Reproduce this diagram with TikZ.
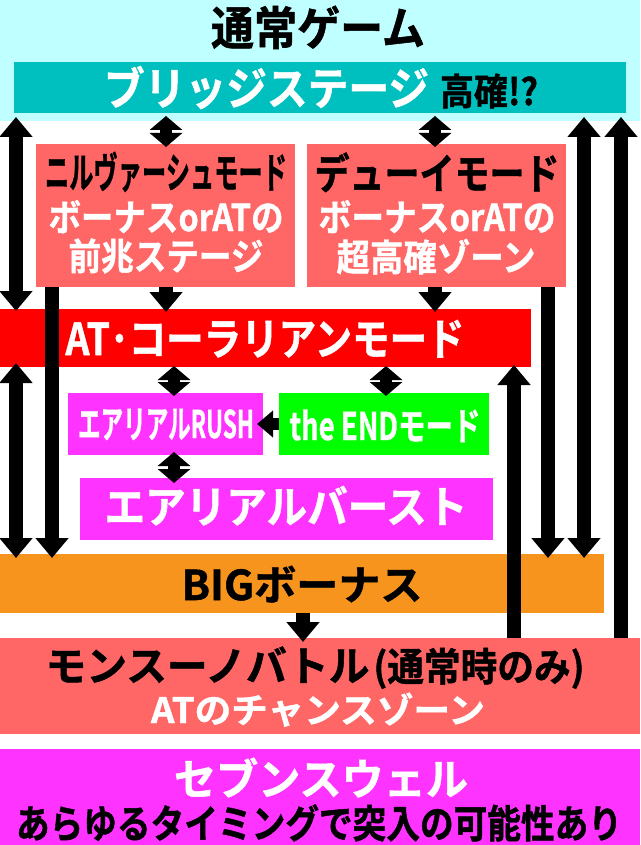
\documentclass[tikz,border=0pt]{standalone}
\usepackage{fontspec}
\setmainfont{Noto Sans CJK JP}[BoldFont=* Bold, BoldFeatures={FakeBold=1.2}]
\usepackage{graphicx}
\usetikzlibrary{arrows.meta}
\definecolor{cyanbg}{RGB}{192,255,255}
\definecolor{teal}{RGB}{0,191,191}
\definecolor{pinkred}{RGB}{255,102,102}
\definecolor{redbar}{RGB}{255,0,0}
\definecolor{magbox}{RGB}{255,51,255}
\definecolor{greenbox}{RGB}{0,255,0}
\definecolor{orangebar}{RGB}{247,148,30}
\newcommand\fitx[3]{\resizebox{#1pt}{\height}{\fontsize{#2}{#2}\selectfont #3}}
\tikzset{
  box/.style={rectangle, inner sep=0pt, outer sep=0pt, anchor=north west, draw=none},
  txt/.style={inner sep=0pt, outer sep=0pt, anchor=base, font=\bfseries},
  harrow/.style={line width=14pt, -{Triangle[width=32pt,length=20pt]}},
  dharrow/.style={line width=14pt, {Triangle[width=32pt,length=20pt]}-{Triangle[width=32pt,length=20pt]}},
  sdarrow/.style={line width=12pt, {Triangle[width=32pt,length=14pt]}-{Triangle[width=32pt,length=14pt]}},
  sharrow/.style={line width=12pt, -{Triangle[width=26pt,length=16pt]}},
}
\begin{document}
\begin{tikzpicture}[x=1pt,y=-1pt]
\fill[white] (0,0) rectangle (640,845);
\useasboundingbox (0,0) rectangle (640,845);
% boxes
\node (normal) [box, fill=cyanbg, minimum width=640pt, minimum height=121pt] at (0,0) {};
\node (bridge) [box, fill=teal, minimum width=612pt, minimum height=51pt] at (14,62) {};
\node (nirv) [box, fill=pinkred, minimum width=259pt, minimum height=143pt] at (36,144) {};
\node (dewey) [box, fill=pinkred, minimum width=259pt, minimum height=143pt] at (307,144) {};
\node (at) [box, fill=redbar, minimum width=531pt, minimum height=58pt] at (0,309) {};
\node (rush) [box, fill=magbox, minimum width=195pt, minimum height=62pt] at (68,393) {};
\node (theend) [box, fill=greenbox, minimum width=210pt, minimum height=62pt] at (279,393) {};
\node (burst) [box, fill=magbox, minimum width=413pt, minimum height=62pt] at (80,478) {};
\node (big) [box, fill=orangebar, minimum width=604pt, minimum height=59pt] at (0,554) {};
\node (monsoon) [box, fill=pinkred, minimum width=640pt, minimum height=96pt] at (0,638) {};
\node (seven) [box, fill=magbox, minimum width=640pt, minimum height=96pt] at (0,749) {};
% texts
\node (ttitle) [txt] at (318,45) {\fitx{214}{46}{通常ゲーム}};
\node (tbridge) [txt] at (321,105) {\color{white}\fitx{325}{45}{ブリッジステージ}\hspace{11pt}\color{black}\fitx{98}{37}{高確!?}};
\node (tnirva) [txt] at (166,188) {\fitx{242}{42}{ニルヴァーシュモード}};
\node (tnirvb) [txt, text=white] at (166,231) {\fitx{235}{37}{ボーナスorATの}};
\node (tnirvc) [txt, text=white] at (166,270) {\fitx{195}{37}{前兆ステージ}};
\node (tdewa) [txt] at (437,189) {\fitx{245}{42}{デューイモード}};
\node (tdewb) [txt, text=white] at (437,231) {\fitx{237}{37}{ボーナスorATの}};
\node (tdewc) [txt, text=white] at (436,271) {\fitx{199}{37}{超高確ゾーン}};
\node (tat) [txt, text=white] at (265,355) {\fitx{399}{44}{AT･コーラリアンモード}};
\node (trush) [txt, text=white] at (166,438) {\fitx{176}{38}{エアリアルRUSH}};
\node (tend) [txt, text=white] at (385,440) {\fitx{191}{38}{the ENDモード}};
\node (tburst) [txt, text=white] at (286,523) {\fitx{363}{44}{エアリアルバースト}};
\node (tbig) [txt] at (302,600) {\fitx{241}{41}{BIGボーナス}};
\node (tmona) [txt] at (315,681) {\fitx{324}{41}{モンスーノバトル}\hspace{4pt}\fitx{211}{39}{(通常時のみ)}};
\node (tmonb) [txt, text=white] at (318,723) {\fitx{334}{35}{ATのチャンスゾーン}};
\node (tseva) [txt, text=white] at (321,795) {\fitx{294}{43}{セブンスウェル}};
\node (tsevb) [txt] at (319,838) {\fitx{606}{39}{あらゆるタイミングで突入の可能性あり}};
% columns
\coordinate (c16) at (16,0);
\coordinate (c52) at (52,0);
\coordinate (c166) at (166,0);
\coordinate (c174) at (174,0);
\coordinate (c303) at (303,0);
\coordinate (c386) at (386,0);
\coordinate (c435) at (435,0);
\coordinate (c514) at (514,0);
\coordinate (c548) at (548,0);
\coordinate (c584) at (584,0);
\coordinate (c621) at (621,0);
% arrows
\draw[dharrow, shorten <=4pt, shorten >=-2pt] (bridge.south -| c16) -- (at.north -| c16);
\draw[dharrow, shorten <=-4pt, shorten >=-4pt] (at.south -| c16) -- (big.north -| c16);
\draw[harrow, shorten >=-4pt] (nirv.south -| c52) -- (big.north -| c52);
\draw[harrow, shorten >=-4pt] (dewey.south -| c548) -- (big.north -| c548);
\draw[dharrow, shorten <=4pt, shorten >=-4pt] (bridge.south -| c584) -- (big.north -| c584);
\draw[harrow, shorten >=4pt] (monsoon.north -| c621) -- (bridge.south -| c621);
\draw[harrow, shorten >=-2pt] (monsoon.north -| c514) -- (at.south -| c514);
\draw[harrow, shorten >=-3pt] (nirv.south -| c166) -- (at.north -| c166);
\draw[harrow, shorten >=-3pt] (dewey.south -| c435) -- (at.north -| c435);
\draw[sdarrow, shorten <=3pt, shorten >=-3pt] (bridge.south -| c166) -- (nirv.north -| c166);
\draw[sdarrow, shorten <=3pt, shorten >=-3pt] (bridge.south -| c435) -- (dewey.north -| c435);
\draw[sdarrow, shorten <=-1pt, shorten >=-3pt] (at.south -| c174) -- (rush.north -| c174);
\draw[sdarrow, shorten <=-1pt, shorten >=-3pt] (at.south -| c386) -- (theend.north -| c386);
\draw[sdarrow, shorten <=-3pt, shorten >=-5pt] (rush.south -| c174) -- (burst.north -| c174);
\draw[sharrow, shorten >=-6pt] (theend.west) -- (rush.east);
\draw[harrow, shorten >=-4pt] (big.south -| c303) -- (monsoon.north -| c303);
\end{tikzpicture}
\end{document}
